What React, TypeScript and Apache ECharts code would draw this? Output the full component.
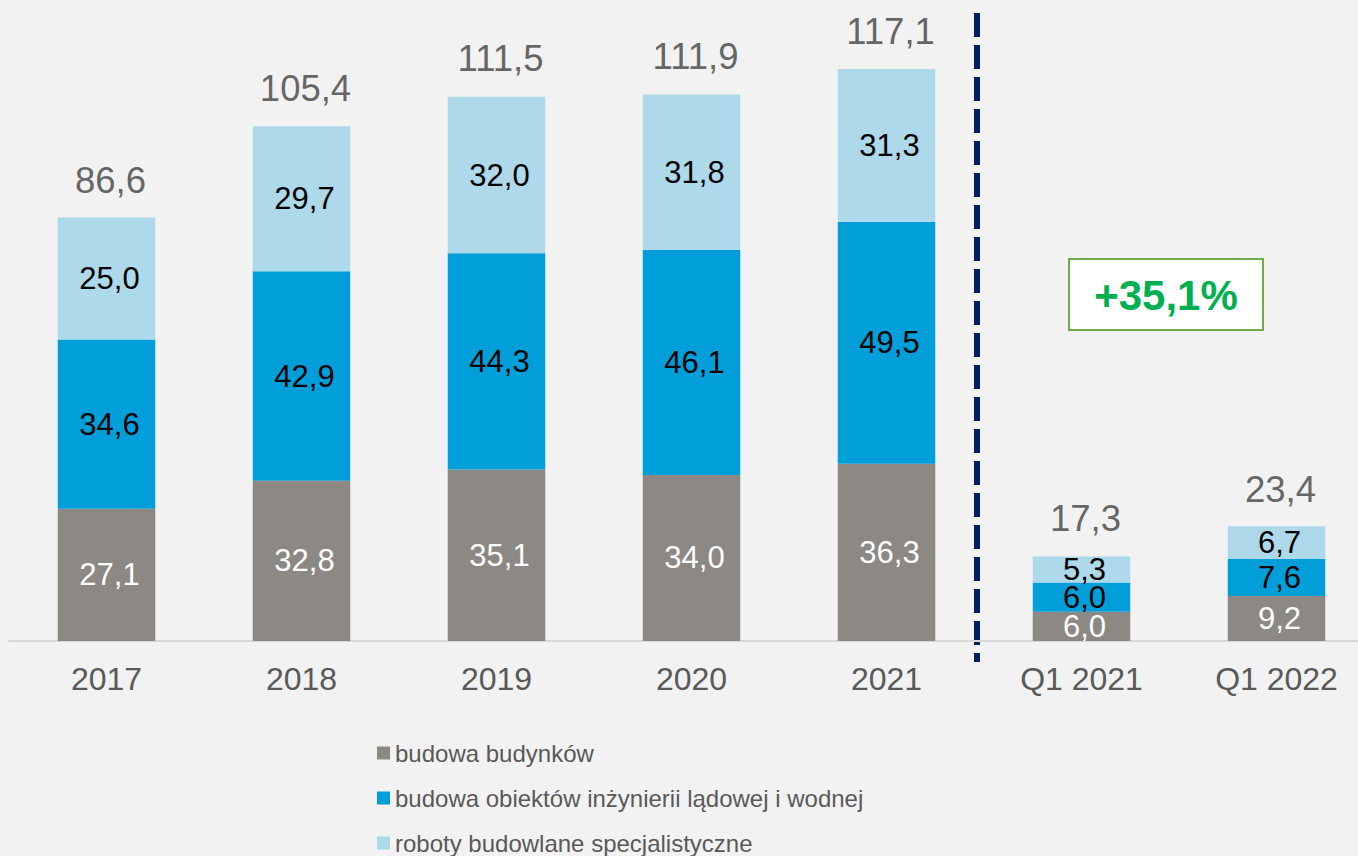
import React, { useEffect, useRef } from "react";
import * as echarts from "echarts";

const categories = ["2017", "2018", "2019", "2020", "2021", "Q1 2021", "Q1 2022"];
const buildings = [27.1, 32.8, 35.1, 34.0, 36.3, 6.0, 9.2];
const civilEng = [34.6, 42.9, 44.3, 46.1, 49.5, 6.0, 7.6];
const specialist = [25.0, 29.7, 32.0, 31.8, 31.3, 5.3, 6.7];
const totals = [86.6, 105.4, 111.5, 111.9, 117.1, 17.3, 23.4];
const seriesNames = [
  "budowa budynków",
  "budowa obiektów inżynierii lądowej i wodnej",
  "roboty budowlane specjalistyczne",
];
const growthLabel = "+35,1%";

const FONT = "'Liberation Sans', Arial, sans-serif";
const fmt = (v: number) => v.toFixed(1).replace(".", ",");

export default function App() {
  const ref = useRef<HTMLDivElement>(null);
  useEffect(() => {
    if (!ref.current) return;
    const chart = echarts.init(ref.current, null, { renderer: "svg" });
    const innerLabel = (color: string) => ({
      show: true,
      position: "inside" as const,
      offset: [3, 0],
      color,
      fontSize: 31,
      fontFamily: FONT,
      formatter: (p: any) => fmt(p.value),
    });
    chart.setOption({
      animation: false,
      backgroundColor: "#f2f2f2",
      textStyle: { fontFamily: FONT },
      grid: { left: 9, top: 6, width: 1365, height: 635, containLabel: false },
      xAxis: {
        type: "category",
        data: categories,
        axisLine: { lineStyle: { color: "#d9d9d9", width: 2 } },
        axisTick: { show: false },
        axisLabel: { color: "#595959", fontSize: 32, fontFamily: FONT, margin: 22 },
      },
      yAxis: { type: "value", min: 0, max: 130, show: false, splitLine: { show: false } },
      legend: {
        orient: "vertical",
        left: 377,
        top: 740,
        padding: 0,
        height: 300,
        itemWidth: 13,
        itemHeight: 13,
        itemGap: 19,
        icon: "rect",
        data: seriesNames,
        textStyle: { color: "#595959", fontSize: 24, lineHeight: 26, fontFamily: FONT },
        selectedMode: false,
      },
      series: [
        {
          name: seriesNames[0],
          type: "bar",
          stack: "s",
          barWidth: "50%",
          data: buildings,
          itemStyle: { color: "#8c8883" },
          label: innerLabel("#ffffff"),
        },
        {
          name: seriesNames[1],
          type: "bar",
          stack: "s",
          data: civilEng,
          itemStyle: { color: "#009fd9" },
          label: innerLabel("#000000"),
        },
        {
          name: seriesNames[2],
          type: "bar",
          stack: "s",
          data: specialist,
          itemStyle: { color: "#add9eb" },
          label: innerLabel("#000000"),
        },
        {
          name: "total",
          type: "scatter",
          symbolSize: 0,
          data: totals,
          silent: true,
          label: {
            show: true,
            position: "top",
            distance: 19,
            offset: [4, 0],
            color: "#404040",
            fontSize: 36.5,
            fontFamily: FONT,
            formatter: (p: any) => fmt(p.value),
          },
        },
      ],
      graphic: [
        {
          type: "line",
          shape: { x1: 977, y1: 13, x2: 977, y2: 662 },
          style: { stroke: "#002060", lineWidth: 6, lineDash: [24, 8] },
        },
        {
          type: "rect",
          shape: { x: 1069, y: 259, width: 194, height: 71 },
          style: { fill: "#ffffff", stroke: "#70ad47", lineWidth: 2 },
        },
        {
          type: "text",
          x: 1166,
          y: 295,
          style: {
            text: growthLabel,
            fill: "#00b050",
            font: "bold 42px 'Liberation Sans', Arial, sans-serif",
            align: "center",
            verticalAlign: "middle",
          },
        },
      ],
    });
    return () => chart.dispose();
  }, []);
  return (
    <div
      ref={ref}
      style={{ position: "fixed", left: 0, top: 0, width: 1380, height: 856 }}
    />
  );
}
